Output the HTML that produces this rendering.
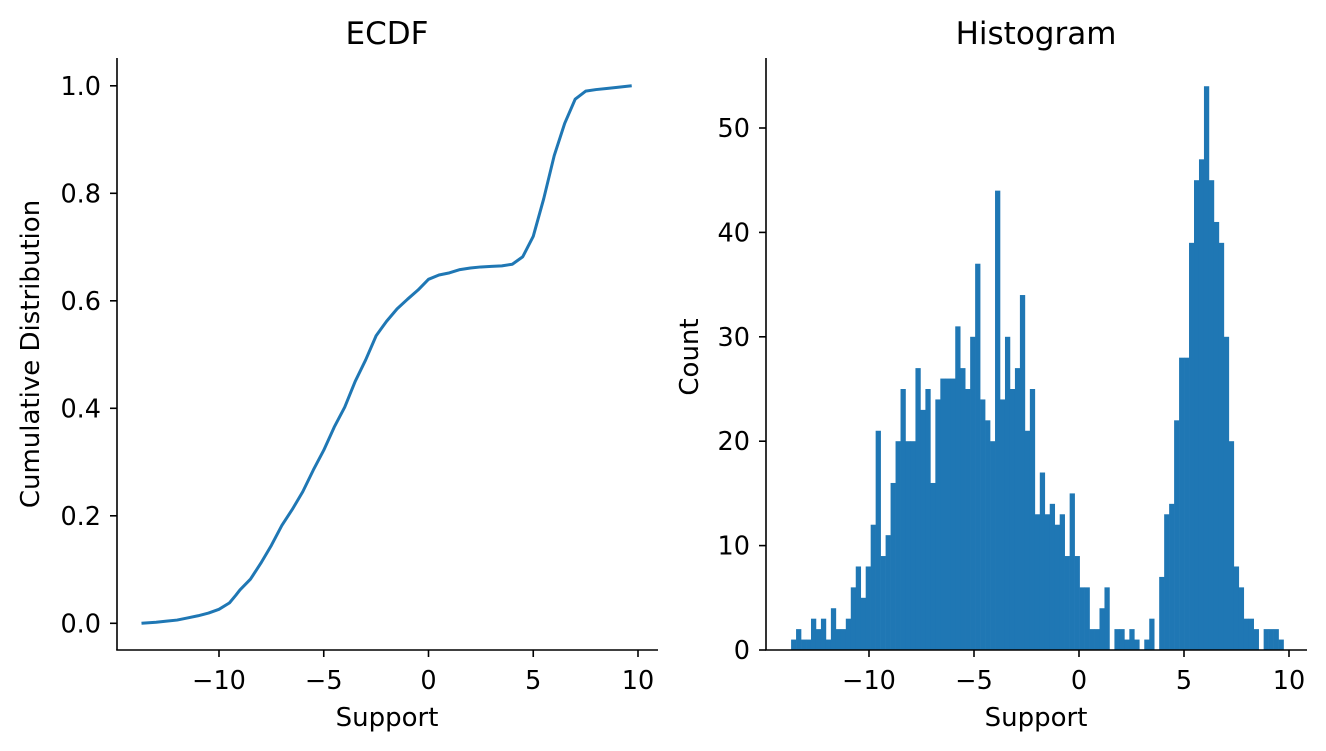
<!DOCTYPE html>
<html><head><meta charset="utf-8"><style>
html,body{margin:0;padding:0;background:#fff;}
svg{display:block;font-family:"DejaVu Sans","Liberation Sans",sans-serif;}
</style></head><body>
<svg id="fig" width="1326" height="751" viewBox="0 0 1326 751" xmlns="http://www.w3.org/2000/svg">
<rect width="1326" height="751" fill="#fff"/>
<g id="ecdf"></g>
<g id="hist"></g>
</svg>
<script>
const ecdfX = [-13.7,-13,-12.5,-12,-11.5,-11,-10.5,-10,-9.5,-9.2,-9,-8.5,-8,-7.5,-7,-6.5,-6,-5.5,-5,-4.5,-4,-3.5,-3,-2.5,-2,-1.5,-1,-0.5,0,0.5,1,1.5,2,2.5,3,3.5,4,4.5,5,5.5,6,6.5,7,7.5,8,8.5,9,9.7];
const ecdfY = [0,0.002,0.004,0.006,0.01,0.014,0.019,0.026,0.038,0.052,0.062,0.082,0.112,0.145,0.182,0.212,0.245,0.285,0.322,0.365,0.402,0.45,0.49,0.535,0.562,0.585,0.603,0.62,0.64,0.648,0.652,0.658,0.661,0.663,0.664,0.665,0.668,0.682,0.72,0.79,0.87,0.93,0.975,0.99,0.993,0.995,0.997,1.0];
const ecdfXTicks = [-10,-5,0,5,10];
const ecdfYTicks = [0,0.2,0.4,0.6,0.8,1.0];
const ecdfYTickLabels = ["0.0","0.2","0.4","0.6","0.8","1.0"];
const histCounts = [1,2,1,1,3,2,3,1,4,2,2,3,6,8,5,8,12,21,9,11,16,20,25,20,20,27,23,25,16,24,26,26,26,
31,27,25,30,37,24,22,20,44,24,30,25,27,34,21,25,13,17,13,14,12,13,9,15,9,6,6,2,2,4,6,0,2,
2,1,2,1,0,1,3,0,7,13,14,22,28,28,39,45,47,54,45,41,39,30,20,8,6,3,3,2,0,2,2,2,1];
const histRange = [-13.71, 9.74];
const histXTicks = [-10,-5,0,5,10];
const histYTicks = [0,10,20,30,40,50];

const NS="http://www.w3.org/2000/svg";
const TF=25.5, LF=26, TTF=31;
function mk(parent,tag,attrs,text){const e=document.createElementNS(NS,tag);for(const k in attrs)e.setAttribute(k,attrs[k]);if(text!==undefined)e.textContent=text;parent.appendChild(e);return e;}
const fmt=v=>(v<0?"\u2212"+Math.abs(v):String(v));

// ECDF panel
const eg=document.getElementById('ecdf');
const ex=v=>428.5+20.95*v, ey=v=>623.3-537.5*v;
let d=ecdfX.map((x,i)=>(i?'L':'M')+ex(x).toFixed(2)+' '+ey(ecdfY[i]).toFixed(2)).join(' ');
const line=mk(eg,'path',{d:d,fill:'none',stroke:'#1f77b4','stroke-width':3,'stroke-linejoin':'round'});


mk(eg,'line',{x1:117,y1:58,x2:117,y2:650,stroke:'#000','stroke-width':1.6});
mk(eg,'line',{x1:116.2,y1:650,x2:658,y2:650,stroke:'#000','stroke-width':1.6});
ecdfXTicks.forEach(v=>{
  mk(eg,'line',{x1:ex(v),y1:650,x2:ex(v),y2:657,stroke:'#000','stroke-width':1.6});
  const t=mk(eg,'text',{x:ex(v),y:689,'font-size':TF,'text-anchor':'middle'},fmt(v));
  
  
});
ecdfYTicks.forEach((v,i)=>{
  mk(eg,'line',{x1:110,y1:ey(v),x2:117,y2:ey(v),stroke:'#000','stroke-width':1.6});
  const t=mk(eg,'text',{x:101,y:ey(v)+9,'font-size':TF,'text-anchor':'end'},ecdfYTickLabels[i]);
  
  
});
let t=mk(eg,'text',{x:387,y:44,'font-size':TTF,'text-anchor':'middle'},'ECDF');

t=mk(eg,'text',{x:387,y:726,'font-size':LF,'text-anchor':'middle'},'Support');

t=mk(eg,'text',{x:39,y:354,'font-size':LF,'text-anchor':'middle',transform:'rotate(-90 39 354)'},'Cumulative Distribution');


// Histogram panel
const hg=document.getElementById('hist');
const hx=v=>1079+21.0*v, hy=v=>650-10.44*v;
const bw=(histRange[1]-histRange[0])/histCounts.length;
histCounts.forEach((c,i)=>{
  if(c<=0)return;
  const x0=hx(histRange[0]+i*bw), x1=hx(histRange[0]+(i+1)*bw);
  const r=mk(hg,'rect',{x:x0,y:hy(c),width:x1-x0+0.3,height:hy(0)-hy(c),fill:'#1f77b4'});
  
  
});
mk(hg,'line',{x1:766,y1:58,x2:766,y2:650,stroke:'#000','stroke-width':1.6});
mk(hg,'line',{x1:765.2,y1:650,x2:1307,y2:650,stroke:'#000','stroke-width':1.6});
histXTicks.forEach(v=>{
  mk(hg,'line',{x1:hx(v),y1:650,x2:hx(v),y2:657,stroke:'#000','stroke-width':1.6});
  const t=mk(hg,'text',{x:hx(v),y:689,'font-size':TF,'text-anchor':'middle'},fmt(v));
  
  
});
histYTicks.forEach(v=>{
  mk(hg,'line',{x1:759,y1:hy(v),x2:766,y2:hy(v),stroke:'#000','stroke-width':1.6});
  const t=mk(hg,'text',{x:750,y:hy(v)+9,'font-size':TF,'text-anchor':'end'},String(v));
  
  
});
t=mk(hg,'text',{x:1036,y:44,'font-size':TTF,'text-anchor':'middle'},'Histogram');

t=mk(hg,'text',{x:1036,y:726,'font-size':LF,'text-anchor':'middle'},'Support');

t=mk(hg,'text',{x:698,y:357,'font-size':LF,'text-anchor':'middle',transform:'rotate(-90 698 357)'},'Count');

</script>
</body></html>
